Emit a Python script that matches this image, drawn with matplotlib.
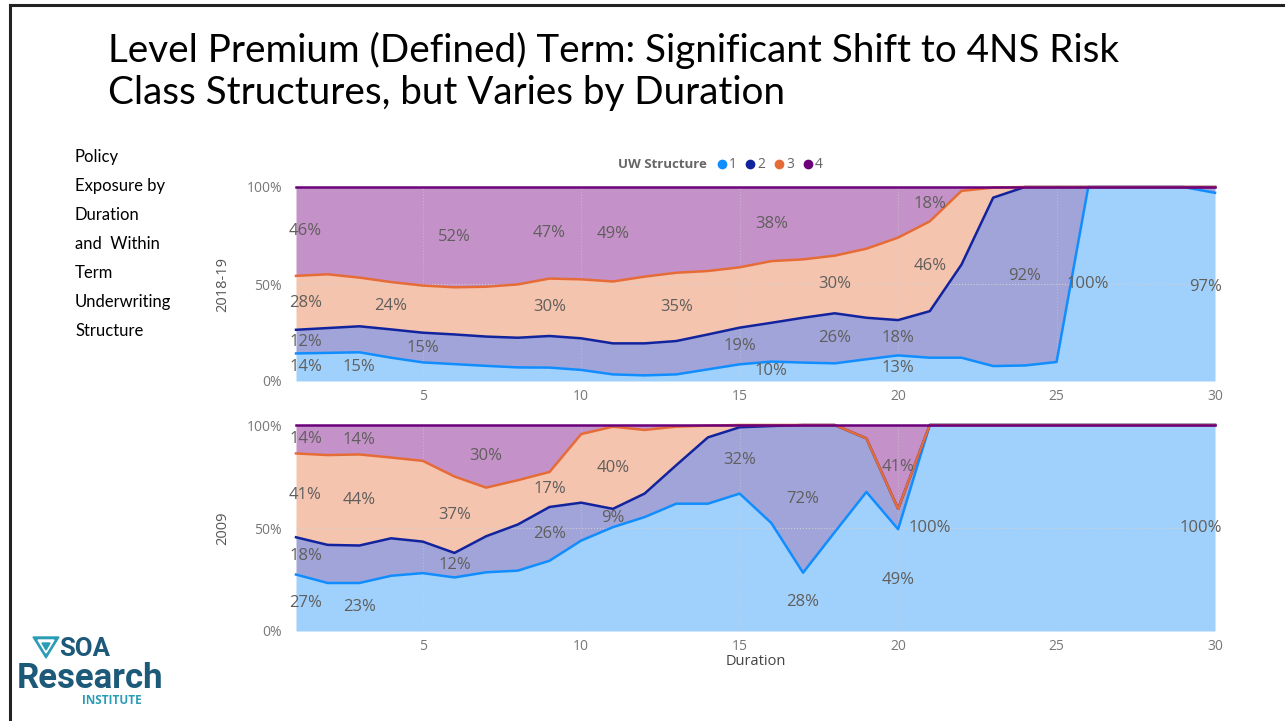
import numpy as np
import matplotlib
matplotlib.use('Agg')
import matplotlib.pyplot as plt
from matplotlib.lines import Line2D
from matplotlib.patches import Polygon

# durations 1..30
durations = list(range(1, 31))

# 2018-19 exposure share by UW structure (%), per duration
top_s1 = [14.2, 14.5, 14.8, 12.0, 9.6, 8.7, 7.8, 7.0, 6.9, 5.7, 3.4, 2.9, 3.4, 6.0, 8.6,
          10.0, 9.5, 9.1, 11.2, 13.2, 12.0, 12.0, 7.7, 8.0, 9.8, 100, 100, 100, 100, 97.0]
top_s2 = [12.2, 12.8, 13.4, 14.6, 15.3, 15.3, 15.1, 15.3, 16.3, 16.3, 16.0, 16.5, 17.2, 18.0, 18.9,
          20.0, 23.1, 25.8, 21.4, 18.2, 24.0, 48.0, 86.8, 92.0, 90.2, 0, 0, 0, 0, 3.0]
top_s3 = [27.8, 27.7, 25.1, 24.4, 24.3, 24.3, 25.7, 27.5, 29.6, 30.4, 31.9, 34.4, 35.2, 32.7, 31.1,
          31.8, 30.1, 29.7, 35.6, 42.5, 46.3, 38.0, 5.2, 0, 0, 0, 0, 0, 0, 0]
top_s4 = [45.8, 45.0, 46.7, 49.0, 50.8, 51.7, 51.4, 50.2, 47.2, 47.6, 48.7, 46.2, 44.2, 43.3, 41.4,
          38.2, 37.3, 35.4, 31.8, 26.1, 17.7, 2.0, 0.3, 0, 0, 0, 0, 0, 0, 0]

# 2009 exposure share by UW structure (%)
bot_s1 = [27.4, 23.3, 23.3, 26.8, 28.1, 26.0, 28.5, 29.3, 34.1, 43.9, 50.4, 55.3, 61.8, 61.8, 66.7,
          52.4, 28.3, 48.0, 67.5, 49.4, 100, 100, 100, 100, 100, 100, 100, 100, 100, 100]
bot_s2 = [18.1, 18.5, 18.2, 18.2, 15.3, 11.9, 17.5, 22.4, 26.1, 18.4, 8.9, 11.4, 18.7, 32.2, 32.2,
          47.1, 71.7, 52.0, 26.0, 9.9, 0, 0, 0, 0, 0, 0, 0, 0, 0, 0]
bot_s3 = [40.7, 43.6, 44.2, 39.2, 39.2, 37.1, 23.6, 21.5, 17.0, 33.3, 39.9, 30.9, 18.7, 5.7, 1.1,
          0.5, 0, 0, 0, 0, 0, 0, 0, 0, 0, 0, 0, 0, 0, 0]
bot_s4 = [13.8, 14.6, 14.3, 15.8, 17.4, 25.0, 30.4, 26.8, 22.8, 4.4, 0.8, 2.4, 0.8, 0.3, 0,
          0, 0, 0, 6.5, 40.7, 0, 0, 0, 0, 0, 0, 0, 0, 0, 0]

# data labels shown: (duration, structure)
top_labels = [(1, 1), (1, 2), (1, 3), (1, 4), (3, 1), (5, 2), (4, 3), (6, 4), (9, 4), (9, 3),
              (11, 4), (13, 3), (15, 2), (16, 1), (16, 4), (18, 3), (18, 2), (20, 2), (20, 1),
              (21, 3), (21, 4), (24, 2), (26, 1), (30, 1)]
bot_labels = [(1, 4), (3, 4), (7, 4), (1, 3), (3, 3), (6, 3), (9, 3), (11, 3), (1, 2), (6, 2),
              (9, 2), (11, 2), (15, 2), (17, 2), (1, 1), (3, 1), (17, 1), (20, 1), (20, 4),
              (21, 1), (30, 1)]

structures = ['1', '2', '3', '4']
line_colors = ['#118DFF', '#12239E', '#E66C37', '#6B007B']
fill_colors = ['#A0D1FC', '#A0A4D8', '#F5C4AE', '#C492C9']
label_color = '#605E5C'

W, H = 1285, 721
fig = plt.figure(figsize=(W / 100, H / 100), dpi=100)


def fx(px):
    return px / W


def fy(py):
    return 1 - py / H


def draw_panel(ax, shares, labels, ylabel):
    x = np.array(durations)
    data = np.array(shares)
    cum = np.vstack([np.zeros(len(x)), np.cumsum(data, axis=0)])
    for k in range(4):
        ax.fill_between(x, cum[k], cum[k + 1], color=fill_colors[k], lw=0, zorder=1)
    for y in [50, 100]:
        ax.axhline(y, color='#d0d0d0', lw=0.8, ls=':', zorder=2)
    for xv in [5, 10, 15, 20, 25, 30]:
        ax.axvline(xv, color='#d0d0d0', lw=0.8, ls=':', alpha=0.5, zorder=2)
    for k in range(4):
        ax.plot(x, cum[k + 1], color=line_colors[k], lw=1.8, zorder=3 + k,
                solid_joinstyle='round', clip_on=False)
    for d, s in labels:
        i = d - 1
        val = data[s - 1][i]
        ymid = cum[s - 1][i] + val / 2
        if d == durations[0]:
            ha, off = 'left', -5
        elif d == durations[-1]:
            ha, off = 'right', 5
        else:
            ha, off = 'center', 0
        ax.annotate(f'{round(val):.0f}%', (d, ymid), xytext=(off, 0),
                    textcoords='offset points', ha=ha, va='center',
                    fontsize=12, color=label_color, family='Open Sans', zorder=10)
    ax.set_xlim(1, 30)
    ax.set_ylim(0, 100)
    ax.set_xticks([5, 10, 15, 20, 25, 30])
    ax.set_yticks([0, 50, 100])
    ax.set_yticklabels(['0%', '50%', '100%'])
    for sp in ax.spines.values():
        sp.set_visible(False)
    ax.tick_params(length=0, labelsize=10, labelcolor='#777777', pad=10)
    ax.tick_params(axis='x', pad=6)
    for t in ax.get_xticklabels() + ax.get_yticklabels():
        t.set_family('Open Sans')
    ax.set_ylabel(ylabel, fontsize=10.5, color='#555555', family='Open Sans', labelpad=12)


ax_top = fig.add_axes([fx(296), fy(381), fx(1215 - 296), (381 - 187) / H])
draw_panel(ax_top, [top_s1, top_s2, top_s3, top_s4], top_labels, '2018-19')

ax_bot = fig.add_axes([fx(296), fy(631), fx(1215 - 296), (631 - 425) / H])
draw_panel(ax_bot, [bot_s1, bot_s2, bot_s3, bot_s4], bot_labels, '2009')
ax_bot.set_xlabel('Duration', fontsize=10.5, color='#444444', family='Open Sans', labelpad=0)

# legend
fig.text(fx(618), fy(164), 'UW Structure', fontsize=9.5, fontweight='bold', color='#666666',
         family='Open Sans', va='center')
lx = [722, 750, 779, 808]
for k in range(4):
    fig.add_artist(Line2D([fx(lx[k])], [fy(164)], marker='o', ms=6, color=line_colors[k],
                          transform=fig.transFigure))
    fig.text(fx(lx[k] + 7), fy(164), structures[k], fontsize=10, color='#666666',
             family='Open Sans', va='center')

# title
fig.text(fx(108), fy(50), 'Level Premium (Defined) Term: Significant Shift to 4NS Risk',
         fontsize=27.8, family='Lato', va='center', color='black')
fig.text(fx(108), fy(93), 'Class Structures, but Varies by Duration',
         fontsize=27.8, family='Lato', va='center', color='black')

# side note
side = 'Policy\nExposure by\nDuration\nand  Within\nTerm\nUnderwriting\nStructure'
fig.text(fx(75), fy(149), side, fontsize=12, family='Lato', va='top', color='black',
         linespacing=2.0)

# slide border (top and left)
fig.add_artist(Line2D([fx(10), fx(W)], [fy(5), fy(5)], color='#222222', lw=2.2,
                      transform=fig.transFigure))
fig.add_artist(Line2D([fx(10), fx(10)], [fy(5), fy(H)], color='#222222', lw=2.2,
                      transform=fig.transFigure))

# logo
teal = '#2A9DB5'
navy = '#1D5A7A'
fig.add_artist(Polygon([(fx(33), fy(637)), (fx(59), fy(637)), (fx(46), fy(658))],
                       closed=True, color=teal, transform=fig.transFigure))
fig.add_artist(Polygon([(fx(38), fy(640)), (fx(54), fy(640)), (fx(46), fy(653))],
                       closed=True, color='white', transform=fig.transFigure))
fig.add_artist(Polygon([(fx(42), fy(643)), (fx(50), fy(643)), (fx(46), fy(650))],
                       closed=True, color=teal, transform=fig.transFigure))
fig.text(fx(59), fy(656), 'SOA', fontsize=18.5, fontweight='bold', family='Roboto',
         color=navy, va='baseline')
fig.text(fx(17), fy(688), 'Research', fontsize=25, fontweight='bold', family='Roboto',
         color=navy, va='baseline')
fig.text(fx(82), fy(701), 'INSTITUTE', fontsize=8.5, fontweight='bold', family='Open Sans',
         color=teal, va='center')

fig.savefig('out.png', dpi=100)
